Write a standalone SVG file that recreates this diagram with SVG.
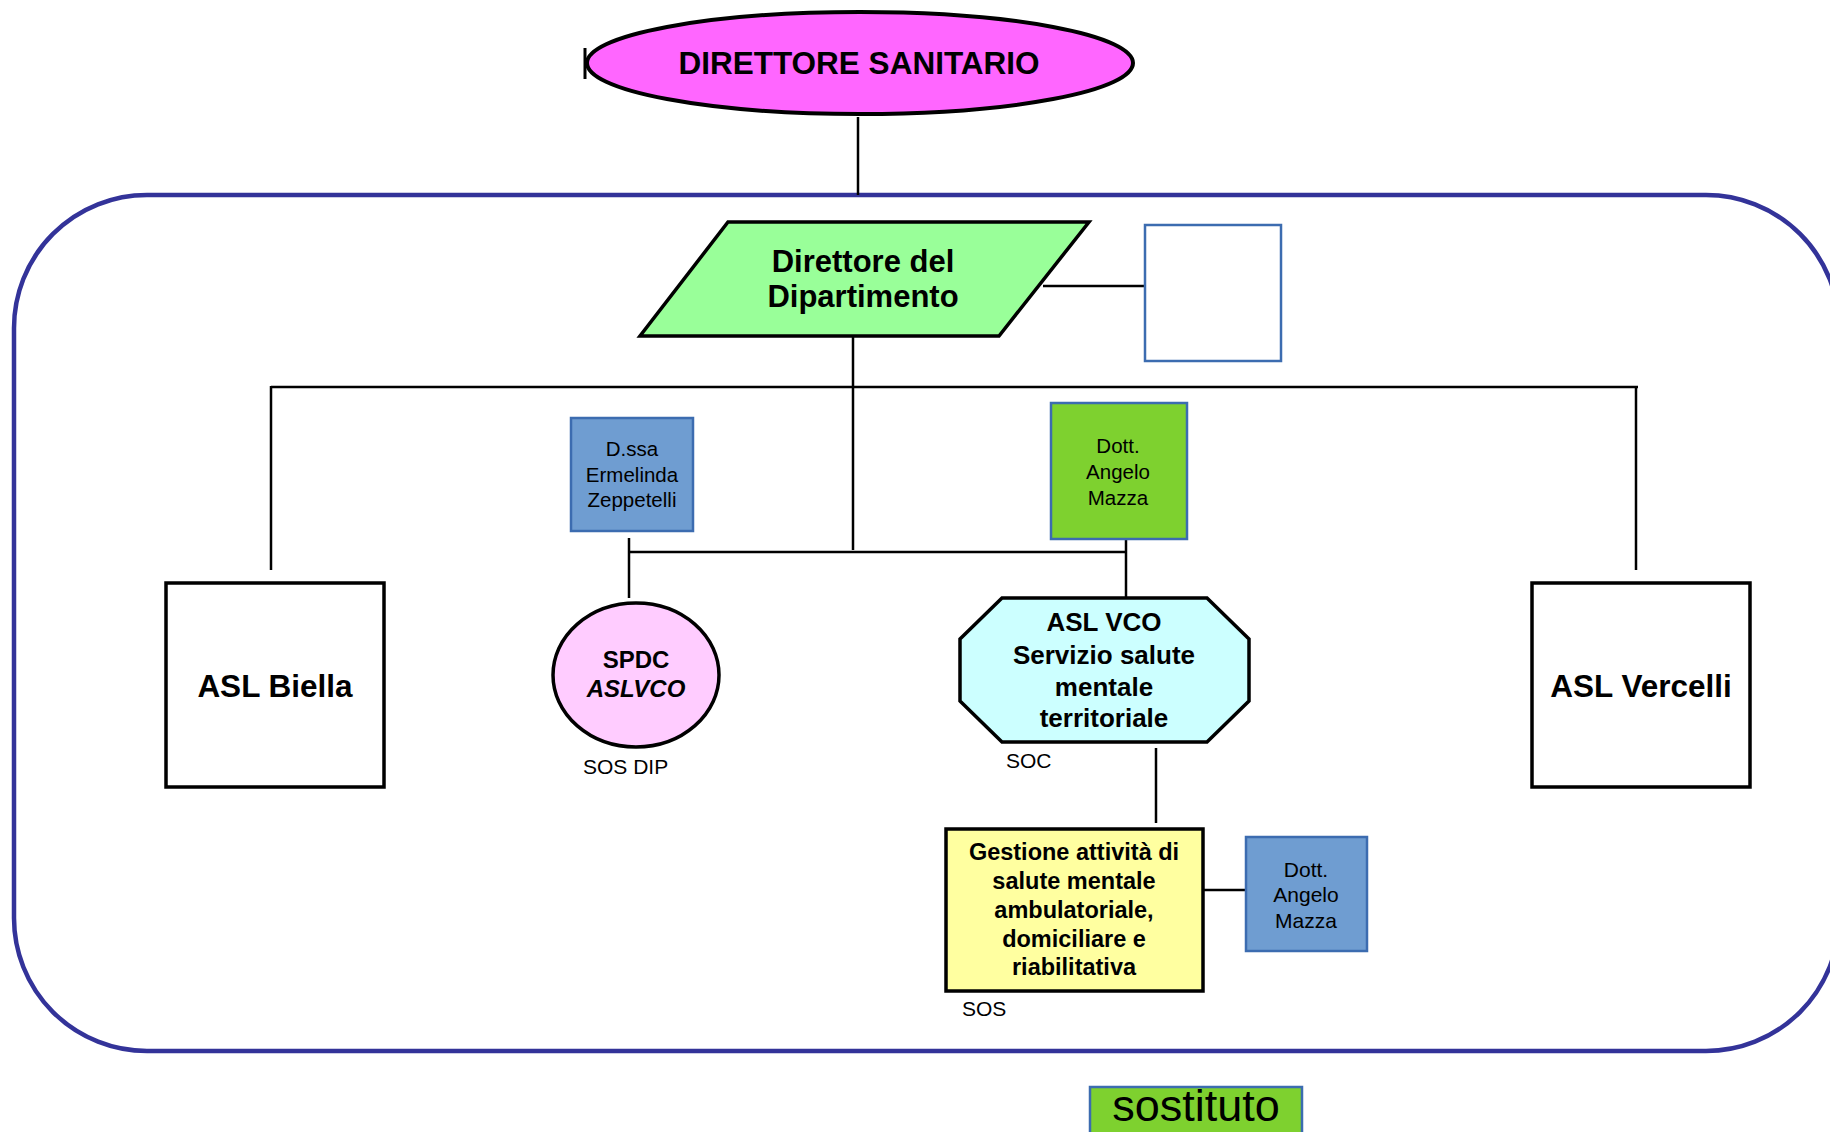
<svg xmlns="http://www.w3.org/2000/svg" width="1830" height="1132" viewBox="0 0 1830 1132">
<style>
text{font-family:"Liberation Sans",Arial,sans-serif;fill:#000;text-anchor:middle}
.b{font-weight:bold}
.ln{stroke:#000;stroke-width:2.5;fill:none}
.bx{stroke:#000;stroke-width:3.5}
.bl{fill:#6f9dd1;stroke:#3c6cb0;stroke-width:2.5}
.lbl{text-anchor:start;font-size:21px}
</style>
<rect width="1830" height="1132" fill="#fff"/>
<g id="department-frame">
<rect x="14" y="195" width="1825" height="856" rx="133" ry="133" fill="none" stroke="#333399" stroke-width="4.5"/>
</g>
<g id="connectors">
<line class="ln" x1="858" y1="117" x2="858" y2="195"/>
<line class="ln" x1="1043" y1="286" x2="1145" y2="286"/>
<line class="ln" x1="853" y1="336" x2="853" y2="550"/>
<line class="ln" x1="271" y1="387" x2="1638" y2="387"/>
<line class="ln" x1="271" y1="386" x2="271" y2="570"/>
<line class="ln" x1="1636" y1="386" x2="1636" y2="570"/>
<line class="ln" x1="629" y1="552" x2="1126" y2="552"/>
<line class="ln" x1="629" y1="538" x2="629" y2="598"/>
<line class="ln" x1="1126" y1="539" x2="1126" y2="598"/>
<line class="ln" x1="1156" y1="748" x2="1156" y2="823"/>
<line class="ln" x1="1198" y1="890" x2="1246" y2="890"/>
</g>
<g id="direttore-sanitario">
<ellipse cx="860" cy="63" rx="273" ry="51" fill="#ff66ff" stroke="#000" stroke-width="4"/>
<line x1="585" y1="48" x2="585" y2="79" stroke="#000" stroke-width="3"/>
<text class="b" x="859" y="74" font-size="31.5">DIRETTORE SANITARIO</text>
</g>
<g id="direttore-dipartimento">
<polygon points="728,222 1089,222 999,336 640,336" fill="#99ff99" stroke="#000" stroke-width="3.5"/>
<text class="b" x="863" y="272" font-size="31">Direttore del</text>
<text class="b" x="863" y="307" font-size="31">Dipartimento</text>
</g>
<g id="blank-box">
<rect x="1145" y="225" width="136" height="136" fill="#fff" stroke="#3c6cb0" stroke-width="2.5"/>
</g>
<g id="asl-biella">
<rect class="bx" x="166" y="583" width="218" height="204" fill="#fff"/>
<text class="b" x="275" y="697" font-size="31.5">ASL Biella</text>
</g>
<g id="asl-vercelli">
<rect class="bx" x="1532" y="583" width="218" height="204" fill="#fff"/>
<text class="b" x="1641" y="697" font-size="31.5">ASL Vercelli</text>
</g>
<g id="dssa-zeppetelli">
<rect class="bl" x="571" y="418" width="122" height="113"/>
<text x="632" y="456" font-size="20.5">D.ssa</text>
<text x="632" y="482" font-size="20.5">Ermelinda</text>
<text x="632" y="507" font-size="20.5">Zeppetelli</text>
</g>
<g id="dott-mazza-green">
<rect x="1051" y="403" width="136" height="136" fill="#7ed12f" stroke="#3c6cb0" stroke-width="2.5"/>
<text x="1118" y="453" font-size="20.5">Dott.</text>
<text x="1118" y="479" font-size="20.5">Angelo</text>
<text x="1118" y="505" font-size="20.5">Mazza</text>
</g>
<g id="spdc">
<ellipse cx="636" cy="675" rx="83" ry="72" fill="#ffccff" stroke="#000" stroke-width="3.5"/>
<text class="b" x="636" y="668" font-size="24">SPDC</text>
<text class="b" x="636" y="697" font-size="24" font-style="italic">ASLVCO</text>
<text class="lbl" x="583" y="774">SOS DIP</text>
</g>
<g id="asl-vco">
<polygon points="1002,598 1207,598 1249,639 1249,701 1207,742 1002,742 960,701 960,639" fill="#ccffff" stroke="#000" stroke-width="3.5"/>
<text class="b" x="1104" y="631" font-size="26">ASL VCO</text>
<text class="b" x="1104" y="664" font-size="26">Servizio salute</text>
<text class="b" x="1104" y="696" font-size="26">mentale</text>
<text class="b" x="1104" y="727" font-size="26">territoriale</text>
<text class="lbl" x="1006" y="768">SOC</text>
</g>
<g id="gestione-sos">
<rect class="bx" x="946" y="829" width="257" height="162" fill="#ffffa0"/>
<text class="b" x="1074" y="860" font-size="23.5">Gestione attività di</text>
<text class="b" x="1074" y="889" font-size="23.5">salute mentale</text>
<text class="b" x="1074" y="918" font-size="23.5">ambulatoriale,</text>
<text class="b" x="1074" y="947" font-size="23.5">domiciliare e</text>
<text class="b" x="1074" y="975" font-size="23.5">riabilitativa</text>
<text class="lbl" x="962" y="1016">SOS</text>
</g>
<g id="dott-mazza-blue">
<rect class="bl" x="1246" y="837" width="121" height="114"/>
<text x="1306" y="877" font-size="21">Dott.</text>
<text x="1306" y="902" font-size="21">Angelo</text>
<text x="1306" y="928" font-size="21">Mazza</text>
</g>
<g id="sostituto">
<rect x="1090" y="1087" width="212" height="60" fill="#7ed12f" stroke="#3c6cb0" stroke-width="2.5"/>
<text x="1196" y="1121" font-size="45">sostituto</text>
</g>
</svg>
